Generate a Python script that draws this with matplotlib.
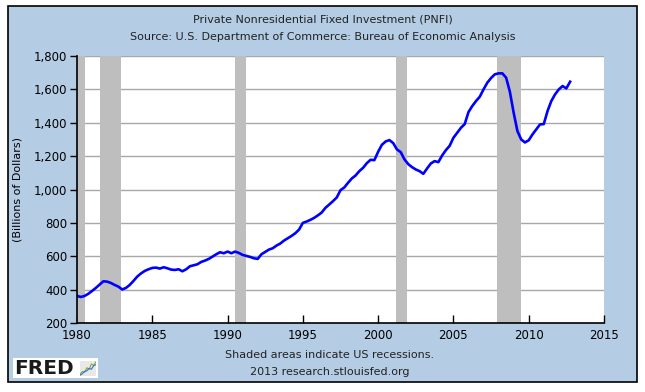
import numpy as np
import matplotlib
matplotlib.use("Agg")
import matplotlib.pyplot as plt
from matplotlib.patches import Rectangle

# quarterly PNFI, billions of dollars, 1980Q1 .. 2012Q4
start_year = 1980
pnfi = [
    362, 356, 362, 375,      # 1980
    392, 410, 430, 450,      # 1981
    448, 440, 428, 418,      # 1982
    401, 410, 428, 452,      # 1983
    478, 497, 512, 522,      # 1984
    530, 532, 526, 534,      # 1985
    528, 520, 518, 522,      # 1986
    510, 522, 540, 546,      # 1987
    552, 566, 574, 584,      # 1988
    598, 612, 624, 618,      # 1989
    628, 618, 628, 620,      # 1990
    608, 602, 596, 588,      # 1991
    584, 612, 626, 640,      # 1992
    648, 664, 676, 694,      # 1993
    708, 722, 738, 760,      # 1994
    800, 808, 818, 830,      # 1995
    845, 862, 890, 910,      # 1996
    930, 952, 996, 1012,     # 1997
    1040, 1066, 1084, 1110,  # 1998
    1130, 1158, 1178, 1176,  # 1999
    1226, 1268, 1288, 1296,  # 2000
    1278, 1240, 1224, 1180,  # 2001
    1152, 1134, 1120, 1110,  # 2002
    1094, 1126, 1156, 1170,  # 2003
    1164, 1204, 1236, 1262,  # 2004
    1310, 1340, 1370, 1392,  # 2005
    1464, 1500, 1530, 1556,  # 2006
    1600, 1640, 1668, 1690,  # 2007
    1696, 1696, 1670, 1585,  # 2008
    1460, 1350, 1300, 1282,  # 2009
    1295, 1330, 1360, 1390,  # 2010
    1392, 1470, 1530, 1570,  # 2011
    1600, 1620, 1606, 1646,  # 2012
]
dates = start_year + np.arange(len(pnfi)) / 4.0

recessions = [(1980.0, 1980.55), (1981.5, 1982.9), (1990.5, 1991.2),
              (2001.2, 2001.9), (2007.9, 2009.5)]

x_ticks = [1980, 1985, 1990, 1995, 2000, 2005, 2010, 2015]
y_ticks = [200, 400, 600, 800, 1000, 1200, 1400, 1600, 1800]

# little sparkline inside the FRED logo
icon_a = [0.1, 0.3, 0.25, 0.55, 0.45, 0.8, 0.7, 0.95]
icon_b = [0.05, 0.15, 0.3, 0.35, 0.5, 0.45, 0.7, 0.75]

panel = "#b4cde4"

fig = plt.figure(figsize=(6.45, 3.92), dpi=100, facecolor="white")
fig.patches.append(Rectangle((8 / 645, 1 - 382 / 392), 629 / 645, 376 / 392,
                             transform=fig.transFigure, facecolor=panel,
                             edgecolor="black", linewidth=1.2, zorder=-10))

ax = fig.add_axes([77 / 645, 1 - 323 / 392, 527 / 645, 267 / 392])
ax.set_facecolor("white")

# gridlines sit under the recession bars
for y in y_ticks[1:]:
    ax.axhline(y, color="#a8a8a8", lw=1, zorder=1)

for a, b in recessions:
    ax.axvspan(a, b, color="#bebebe", lw=0, zorder=2)

ax.plot(dates, pnfi, color="#0000ff", lw=1.9, zorder=3)

ax.set_xlim(1980, 2015)
ax.set_ylim(200, 1800)
ax.set_xticks(x_ticks)
ax.set_yticks(y_ticks)
ax.set_yticklabels([f"{v:,}" for v in y_ticks])
ax.tick_params(axis="x", direction="in", length=6, width=1, pad=4,
               labelsize=8.5, colors="black")
ax.tick_params(axis="y", direction="out", length=5, width=1, pad=2,
               labelsize=8.5, colors="black")
ax.spines["top"].set_visible(False)
ax.spines["right"].set_visible(False)
ax.spines["left"].set_linewidth(1.2)
ax.spines["bottom"].set_linewidth(1.2)
for s in ("left", "bottom"):
    ax.spines[s].set_zorder(4)
ax.set_ylabel("(Billions of Dollars)", fontsize=8)
ax.yaxis.set_label_coords(-0.1025, 0.5)

fig.text(0.5, 1 - 20 / 392, "Private Nonresidential Fixed Investment (PNFI)",
         ha="center", va="center", fontsize=8, color="#222222")
fig.text(0.5, 1 - 37 / 392,
         "Source: U.S. Department of Commerce: Bureau of Economic Analysis",
         ha="center", va="center", fontsize=8, color="#222222")
fig.text(330 / 645, 1 - 355 / 392, "Shaded areas indicate US recessions.",
         ha="center", va="center", fontsize=8, color="#222222")
fig.text(330 / 645, 1 - 372 / 392, "2013 research.stlouisfed.org",
         ha="center", va="center", fontsize=8, color="#222222")

# FRED logo box
fig.patches.append(Rectangle((13 / 645, 1 - 378 / 392), 85 / 645, 20 / 392,
                             transform=fig.transFigure, facecolor="white",
                             edgecolor="none", zorder=-5))
fig.text(14 / 645, 1 - 368 / 392, "FRED", ha="left", va="center",
         fontsize=14.5, fontweight="heavy", color="#1a1a1a")
icon = fig.add_axes([80 / 645, 1 - 376 / 392, 16 / 645, 15 / 392])
icon.add_patch(Rectangle((0, 0), 1, 1, facecolor="#e8e8e8", zorder=0))
icon.plot(np.linspace(0, 1, len(icon_a)), icon_a, color="#7fae3f", lw=0.8)
icon.plot(np.linspace(0, 1, len(icon_b)), icon_b, color="#3a6fc4", lw=0.8)
icon.set_xlim(0, 1)
icon.set_ylim(0, 1)
icon.axis("off")

fig.savefig("out.png", dpi=100, facecolor="white")
